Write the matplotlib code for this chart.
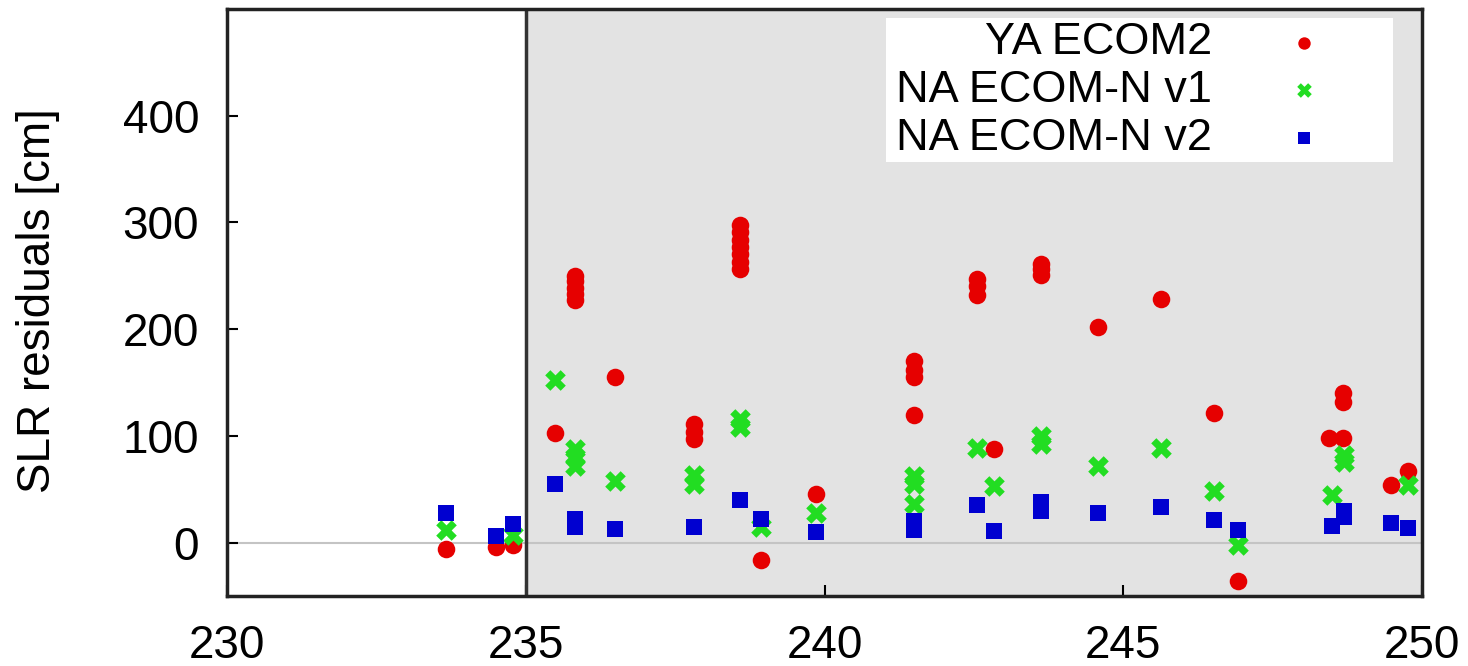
import matplotlib
matplotlib.use("Agg")
import matplotlib.pyplot as plt
from matplotlib.patches import Rectangle

plt.rcParams['font.family'] = ['Liberation Sans', 'DejaVu Sans']

# ---- data ----
series_names = ["YA ECOM2", "NA ECOM-N v1", "NA ECOM-N v2"]
series_colors = ["#e60000", "#22dd22", "#0000d0"]

ya_x = [233.67, 234.51, 234.79, 235.49,
        235.83, 235.83, 235.83, 235.83, 235.83,
        236.50, 237.81, 237.81, 237.81,
        238.59, 238.59, 238.59, 238.59, 238.59, 238.59, 238.59,
        238.93, 239.85, 241.49, 241.49, 241.49, 241.49,
        242.56, 242.56, 242.56, 242.83,
        243.63, 243.63, 243.63, 244.57, 245.63, 246.52, 246.92,
        248.44, 248.68, 248.68, 248.68, 249.48, 249.77]
ya_y = [-6, -4, -2, 103,
        227, 233, 239, 245, 250,
        155, 97, 104, 111,
        256, 263, 270, 277, 284, 291, 298,
        -16, 46, 120, 155, 162, 170,
        232, 240, 247, 88,
        251, 256, 261, 202, 228, 121, -36,
        98, 98, 132, 140, 54, 67]

v1_x = [233.67, 234.79, 235.49, 235.83, 235.83, 235.83, 236.50,
        237.81, 237.81, 238.59, 238.59, 238.93, 239.85,
        241.49, 241.49, 241.49, 242.56, 242.83, 243.63, 243.63,
        244.57, 245.63, 246.52, 246.92, 248.49, 248.69, 248.69, 249.77]
v1_y = [12, 7, 152, 72, 80, 88, 58,
        55, 63, 108, 116, 15, 28,
        36, 55, 62, 89, 53, 92, 100,
        72, 89, 48, -2, 45, 76, 82, 54]

v2_x = [233.67, 234.51, 234.79, 235.49, 235.83, 235.83, 236.50,
        237.81, 238.59, 238.93, 239.85, 241.49, 241.49,
        242.56, 242.83, 243.63, 243.63, 244.57, 245.63, 246.52,
        246.92, 248.49, 248.69, 248.69, 249.48, 249.77]
v2_y = [28, 6, 17, 55, 15, 22, 13,
        15, 40, 22, 10, 12, 20,
        35, 11, 30, 38, 28, 33, 21,
        12, 16, 24, 30, 18, 14]

x_ticks = [230, 235, 240, 245, 250]
y_ticks = [0, 100, 200, 300, 400]
shade_start = 235

# ---- figure ----
W, H = 1468, 666
fig = plt.figure(figsize=(W / 100, H / 100), dpi=100)
ax_l, ax_r, ax_t, ax_b = 227, 1422, 9, 596
ax = fig.add_axes([ax_l / W, 1 - ax_b / H, (ax_r - ax_l) / W, (ax_b - ax_t) / H])
ax.set_xlim(230, 250)
ax.set_ylim(-50, 500)

ax.axvspan(shade_start, 250, color="#e3e3e3", zorder=0, lw=0)
ax.axhline(0, color="#c4c4c4", lw=1.5, zorder=1)
ax.axvline(shade_start, color="#333333", lw=2.5, zorder=4)

ax.scatter(ya_x, ya_y, marker="o", s=160, color=series_colors[0], linewidths=0, zorder=3)
ax.scatter(v1_x, v1_y, marker="X", s=220, color=series_colors[1], linewidths=0, zorder=3)
ax.scatter(v2_x, v2_y, marker="s", s=135, color=series_colors[2], linewidths=0, zorder=3)

ax.set_xticks(x_ticks)
ax.set_yticks(y_ticks)
ax.tick_params(axis="both", direction="in", length=8, width=1.5, labelsize=33)
ax.tick_params(axis="y", pad=20)
ax.tick_params(axis="x", pad=20)
for sp in ax.spines.values():
    sp.set_linewidth(2.5)
    sp.set_color("#222222")
    sp.set_zorder(5)

fig.text(38 / W, 1 - ((ax_t + ax_b) / 2 - 2) / H, "SLR residuals [cm]", rotation=90,
         ha="center", va="center", fontsize=33)

# ---- legend (gnuplot-style, text right-aligned, sample on the right) ----
def axx(px):
    return (px - ax_l) / (ax_r - ax_l)

def axy(py):
    return (ax_b - py) / (ax_b - ax_t)

ax.add_patch(Rectangle((axx(886), axy(162)), axx(1393) - axx(886), axy(18) - axy(162),
                       transform=ax.transAxes, facecolor="white", edgecolor="none", zorder=6))
rows_py = [43, 90, 138]
leg_markers = ["o", "X", "s"]
leg_sizes = [80, 110, 75]
for name, col, mk, sz, py in zip(series_names, series_colors, leg_markers, leg_sizes, rows_py):
    ax.text(axx(1212), axy(py), name, transform=ax.transAxes, ha="right", va="center",
            fontsize=32.5, zorder=7)
    ax.scatter([axx(1304)], [axy(py)], transform=ax.transAxes, marker=mk, s=sz,
               color=col, linewidths=0, zorder=7, clip_on=False)

fig.savefig("out.png", dpi=100)
